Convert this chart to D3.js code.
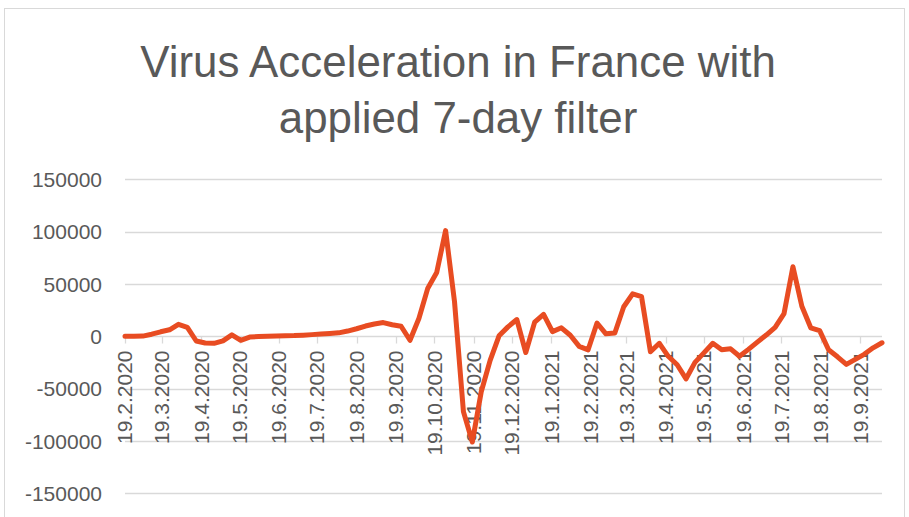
<!DOCTYPE html>
<html>
<head>
<meta charset="utf-8">
<script src="https://cdn.jsdelivr.net/npm/d3@7"></script>
<style>
  body { margin: 0; background: #fff; }
  svg { display: block; font-family: "Liberation Sans", Arial, sans-serif; }
</style>
</head>
<body>
<script>
// weekly points, 7-day filtered acceleration
const weeks = [
  "2020-02-19","2020-02-26","2020-03-04","2020-03-11","2020-03-18","2020-03-25",
  "2020-04-01","2020-04-08","2020-04-15","2020-04-22","2020-04-29","2020-05-06",
  "2020-05-13","2020-05-20","2020-05-27","2020-06-03","2020-06-10","2020-06-17",
  "2020-06-24","2020-07-01","2020-07-08","2020-07-15","2020-07-22","2020-07-29",
  "2020-08-05","2020-08-12","2020-08-19","2020-08-26","2020-09-02","2020-09-09",
  "2020-09-16","2020-09-23","2020-09-30","2020-10-07","2020-10-14","2020-10-21",
  "2020-10-28","2020-11-04","2020-11-11","2020-11-18","2020-11-25","2020-12-02",
  "2020-12-09","2020-12-16","2020-12-23","2020-12-30","2021-01-06","2021-01-13",
  "2021-01-20","2021-01-27","2021-02-03","2021-02-10","2021-02-17","2021-02-24",
  "2021-03-03","2021-03-10","2021-03-17","2021-03-24","2021-03-31","2021-04-07",
  "2021-04-14","2021-04-21","2021-04-28","2021-05-05","2021-05-12","2021-05-19",
  "2021-05-26","2021-06-02","2021-06-09","2021-06-16","2021-06-23","2021-06-30",
  "2021-07-07","2021-07-14","2021-07-21","2021-07-28","2021-08-04","2021-08-11",
  "2021-08-18","2021-08-25","2021-09-01","2021-09-08","2021-09-15","2021-09-22",
  "2021-09-29","2021-10-06"
];
const acceleration = [
  0, 0, 200, 2000, 4300, 6200,
  11500, 8600, -4500, -6400, -6700, -4300,
  1400, -3800, -700, -300, 0, 200,
  500, 700, 1100, 1600, 2100, 2700,
  3300, 5000, 7200, 9800, 11700, 13100,
  11000, 9600, -3800, 17000, 46000, 61000,
  101000, 33000, -72000, -101000, -53000, -23000,
  500, 9000, 16000, -15500, 13500, 21000,
  4500, 8100, 1000, -9600, -12900, 12700,
  2400, 3200, 28200, 40600, 37800, -14800,
  -6700, -19100, -27200, -40600, -24900, -15800,
  -6700, -12900, -12000, -19100, -12500, -5500,
  1200, 8600, 21700, 66400, 28700, 8100,
  5400, -12900, -19600, -26800, -22000, -17200,
  -11000, -6200
];
const monthTicks = [
  "2020-02-19","2020-03-19","2020-04-19","2020-05-19","2020-06-19","2020-07-19",
  "2020-08-19","2020-09-19","2020-10-19","2020-11-19","2020-12-19","2021-01-19",
  "2021-02-19","2021-03-19","2021-04-19","2021-05-19","2021-06-19","2021-07-19",
  "2021-08-19","2021-09-19"
];
const yTicks = [-150000, -100000, -50000, 0, 50000, 100000, 150000];
const titleLines = ["Virus Acceleration in France with", "applied 7-day filter"];

const W = 909, H = 517;
const parse = d3.timeParse("%Y-%m-%d");
const fmt = d3.timeFormat("%-d.%-m.%Y");
const textColor = "#595959";
const gridColor = "#d9d9d9";

const svg = d3.select(document.body).append("svg")
  .attr("width", W)
  .attr("height", H);

// chart border
svg.append("rect")
  .attr("x", 4.5).attr("y", 8.5)
  .attr("width", 900).attr("height", 530)
  .attr("fill", "none")
  .attr("stroke", gridColor);

const x = d3.scaleTime()
  .domain([parse(weeks[0]), parse(weeks[weeks.length - 1])])
  .range([125, 882]);

const y = d3.scaleLinear()
  .domain([-150000, 150000])
  .range([493.3, 179.3]);

// title
const title = svg.append("g")
  .attr("fill", textColor)
  .attr("text-anchor", "middle");
title.selectAll("text")
  .data(titleLines)
  .join("text")
    .attr("x", 458)
    .attr("y", (d, i) => 77 + i * 56)
    .attr("font-size", 44)
    .text(d => d);
// fit the first line to the reference width
const w0 = title.select("text").node().getComputedTextLength();
title.selectAll("text").attr("font-size", 44 * 636 / w0);

// gridlines
svg.append("g")
  .selectAll("line")
  .data(yTicks)
  .join("line")
    .attr("x1", x.range()[0])
    .attr("x2", x.range()[1])
    .attr("y1", d => Math.round(y(d)) + 0.5)
    .attr("y2", d => Math.round(y(d)) + 0.5)
    .attr("stroke", gridColor)
    .attr("stroke-width", 1.3);

// y labels
svg.append("g")
  .attr("fill", textColor)
  .attr("font-size", 21)
  .attr("text-anchor", "end")
  .selectAll("text")
  .data(yTicks)
  .join("text")
    .attr("x", 102)
    .attr("y", d => y(d))
    .attr("dy", "0.36em")
    .text(d => d);

// x axis ticks at zero line
const y0 = Math.round(y(0)) + 0.5;
svg.append("g")
  .selectAll("line")
  .data(monthTicks)
  .join("line")
    .attr("x1", d => Math.round(x(parse(d))) + 0.5)
    .attr("x2", d => Math.round(x(parse(d))) + 0.5)
    .attr("y1", y0)
    .attr("y2", y0 + 7)
    .attr("stroke", gridColor)
    .attr("stroke-width", 1.3);

// x labels, rotated
svg.append("g")
  .attr("fill", textColor)
  .attr("font-size", 21)
  .attr("text-anchor", "end")
  .selectAll("text")
  .data(monthTicks)
  .join("text")
    .attr("transform", d => `translate(${x(parse(d))},${y0 + 14}) rotate(-90)`)
    .attr("dy", "0.35em")
    .text(d => fmt(parse(d)));

// the series
const line = d3.line()
  .x((d, i) => x(parse(weeks[i])))
  .y(d => y(d));

svg.append("path")
  .datum(acceleration)
  .attr("d", line)
  .attr("fill", "none")
  .attr("stroke", "#e84c22")
  .attr("stroke-width", 5)
  .attr("stroke-linejoin", "round")
  .attr("stroke-linecap", "round");
</script>
</body>
</html>
